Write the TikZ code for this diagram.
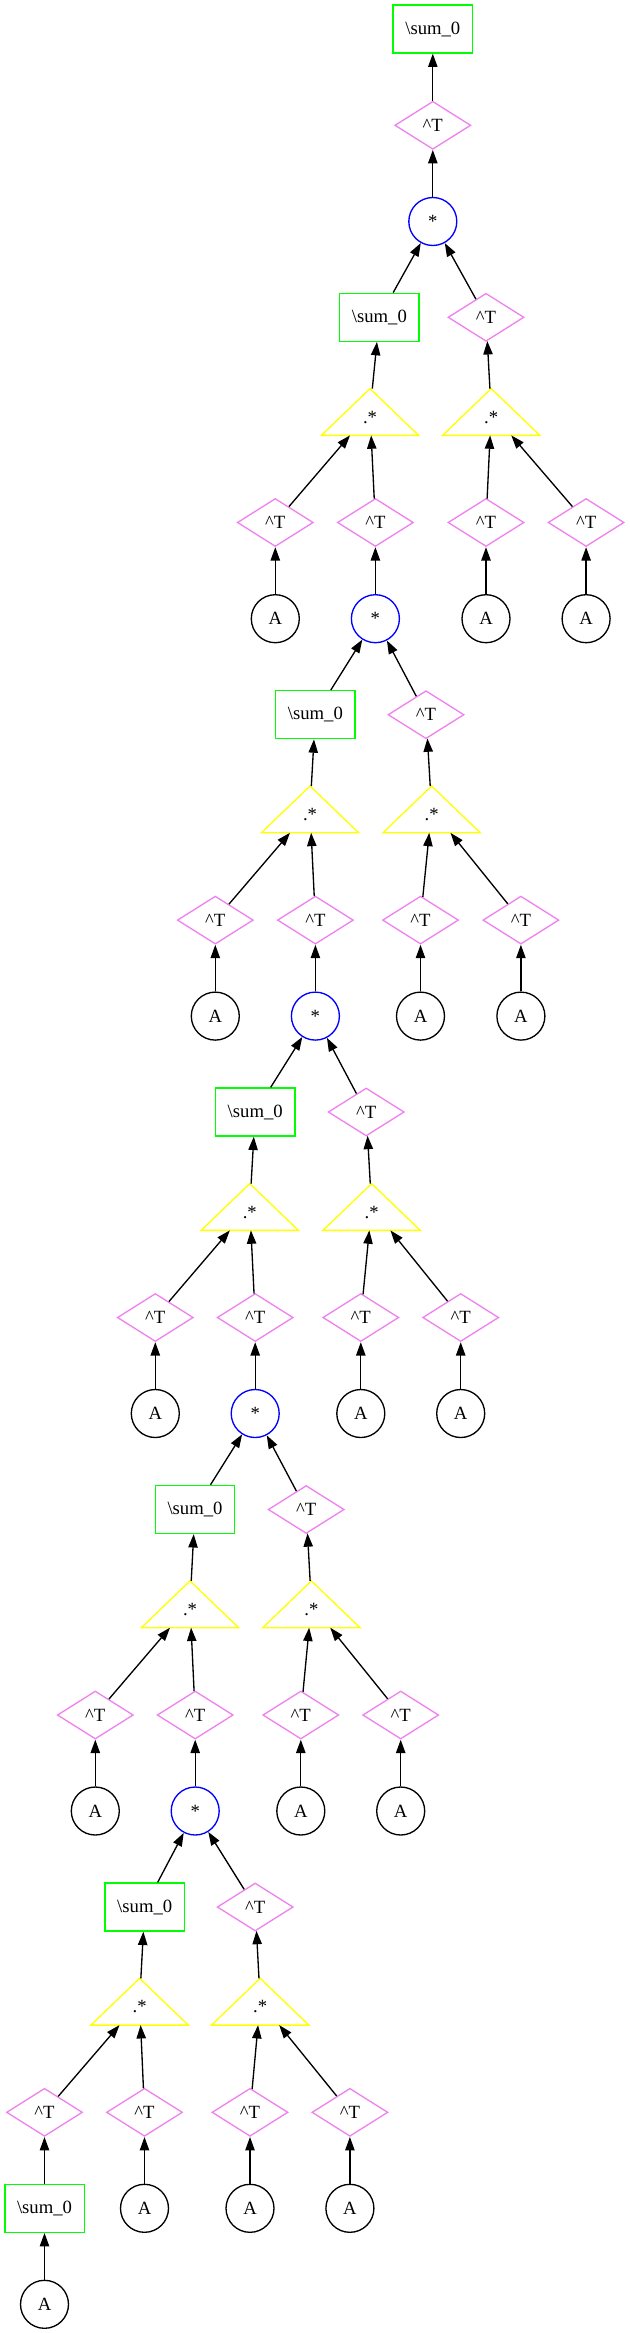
\documentclass[tikz,border=0pt]{standalone}
\usepackage{fontspec}
\setmainfont{Liberation Serif}
\usetikzlibrary{arrows.meta,shapes.geometric}
\definecolor{gvgreen}{HTML}{00FF00}
\definecolor{gvviolet}{HTML}{EE82EE}
\definecolor{gvblue}{HTML}{0000FF}
\definecolor{gvyellow}{HTML}{FFFF00}
\begin{document}
\begin{tikzpicture}[x=0.75pt,y=-0.75pt,
  every node/.style={font=\fontsize{14pt}{16pt}\selectfont, line width=1pt, inner sep=0pt},
  sumbox/.style={draw=gvgreen, rectangle, minimum width=59.5pt, minimum height=36pt},
  tdia/.style={draw=gvviolet, diamond, aspect=1.58, minimum width=57pt, minimum height=36pt},
  acirc/.style={draw=black, circle, minimum size=36pt},
  scirc/.style={draw=gvblue, circle, minimum size=36pt},
  tri/.style={rectangle, minimum width=72pt, minimum height=34.1pt, text height=16.9pt, text depth=0pt},
  triline/.style={draw=gvyellow, line width=1pt, line join=miter},
  arr/.style={-{Triangle[length=10pt,width=7pt]}, line width=1pt, black}]
\useasboundingbox (0,0) rectangle (629,2333);
% top
\node[sumbox] (r0) at (432.8,29) {\textbackslash sum\_0};
\node[tdia] (r1) at (432.8,125.3) {\textasciicircum T};
\node[scirc] (s1) at (432.8,221.5) {*};
% group 1
\node[sumbox] (b1) at (379.4,317.3) {\textbackslash sum\_0};
\node[tdia] (d1) at (486.0,317.3) {\textasciicircum T};
\node[tri] (tl1) at (370.0,412.0) {.*};
\node[tri] (tr1) at (491.2,412.0) {.*};
\node[tdia] (p1a) at (275.3,522.5) {\textasciicircum T};
\node[tdia] (p1b) at (375.4,522.5) {\textasciicircum T};
\node[tdia] (p1c) at (486.0,522.5) {\textasciicircum T};
\node[tdia] (p1d) at (586.1,522.5) {\textasciicircum T};
\node[acirc] (a1a) at (275.3,618.7) {A};
\node[scirc] (s2) at (375.4,618.7) {*};
\node[acirc] (a1c) at (486.0,618.7) {A};
\node[acirc] (a1d) at (586.1,618.7) {A};
% group 2
\node[sumbox] (b2) at (315.4,714.7) {\textbackslash sum\_0};
\node[tdia] (d2) at (426.0,714.7) {\textasciicircum T};
\node[tri] (tl2) at (310.0,809.4) {.*};
\node[tri] (tr2) at (431.6,809.4) {.*};
\node[tdia] (p2a) at (215.3,920.1) {\textasciicircum T};
\node[tdia] (p2b) at (315.4,920.1) {\textasciicircum T};
\node[tdia] (p2c) at (420.5,920.1) {\textasciicircum T};
\node[tdia] (p2d) at (520.9,920.1) {\textasciicircum T};
\node[acirc] (a2a) at (215.3,1016.1) {A};
\node[scirc] (s3) at (315.4,1016.1) {*};
\node[acirc] (a2c) at (420.5,1016.1) {A};
\node[acirc] (a2d) at (520.9,1016.1) {A};
% group 3
\node[sumbox] (b3) at (255.2,1112.0) {\textbackslash sum\_0};
\node[tdia] (d3) at (366.2,1112.0) {\textasciicircum T};
\node[tri] (tl3) at (249.8,1207.0) {.*};
\node[tri] (tr3) at (371.6,1207.0) {.*};
\node[tdia] (p3a) at (155.3,1317.5) {\textasciicircum T};
\node[tdia] (p3b) at (255.2,1317.5) {\textasciicircum T};
\node[tdia] (p3c) at (360.8,1317.5) {\textasciicircum T};
\node[tdia] (p3d) at (460.7,1317.5) {\textasciicircum T};
\node[acirc] (a3a) at (155.3,1413.5) {A};
\node[scirc] (s4) at (255.2,1413.5) {*};
\node[acirc] (a3c) at (360.8,1413.5) {A};
\node[acirc] (a3d) at (460.7,1413.5) {A};
% group 4
\node[sumbox] (b4) at (195.0,1509.5) {\textbackslash sum\_0};
\node[tdia] (d4) at (306.2,1509.5) {\textasciicircum T};
\node[tri] (tl4) at (190.0,1604.3) {.*};
\node[tri] (tr4) at (311.4,1604.3) {.*};
\node[tdia] (p4a) at (95.3,1715.0) {\textasciicircum T};
\node[tdia] (p4b) at (195.2,1715.0) {\textasciicircum T};
\node[tdia] (p4c) at (300.8,1715.0) {\textasciicircum T};
\node[tdia] (p4d) at (400.7,1715.0) {\textasciicircum T};
\node[acirc] (a4a) at (95.3,1811.0) {A};
\node[scirc] (s5) at (195.2,1811.0) {*};
\node[acirc] (a4c) at (300.8,1811.0) {A};
\node[acirc] (a4d) at (400.7,1811.0) {A};
% group 5
\node[sumbox] (b5) at (144.7,1907.0) {\textbackslash sum\_0};
\node[tdia] (d5) at (255.2,1907.0) {\textasciicircum T};
\node[tri] (tl5) at (139.6,2001.7) {.*};
\node[tri] (tr5) at (260.2,2001.7) {.*};
\node[tdia] (p5a) at (44.5,2112.3) {\textasciicircum T};
\node[tdia] (p5b) at (144.5,2112.3) {\textasciicircum T};
\node[tdia] (p5c) at (250.0,2112.3) {\textasciicircum T};
\node[tdia] (p5d) at (349.9,2112.3) {\textasciicircum T};
\node[sumbox] (b6) at (44.5,2208.3) {\textbackslash sum\_0};
\node[acirc] (a5b) at (144.5,2208.3) {A};
\node[acirc] (a5c) at (250.0,2208.3) {A};
\node[acirc] (a5d) at (349.9,2208.3) {A};
\node[acirc] (a6) at (44.5,2304.3) {A};
% triangle outlines
\foreach \t in {tl1,tr1,tl2,tr2,tl3,tr3,tl4,tr4,tl5,tr5}
  \draw[triline] (\t.south west) -- (\t.south east) -- (\t.north) -- cycle;
% edges
\draw[arr] (r1) -- (r0);
\draw[arr] (s1) -- (r1);
\foreach \k/\s in {1/s1,2/s2,3/s3,4/s4,5/s5} {
  \draw[arr] (b\k) -- (\s);
  \draw[arr] (d\k) -- (\s);
  \draw[arr] (tl\k) -- (b\k);
  \draw[arr] (tr\k) -- (d\k);
  \draw[arr] (p\k a) -- (tl\k);
  \draw[arr] (p\k b) -- (tl\k);
  \draw[arr] (p\k c) -- (tr\k);
  \draw[arr] (p\k d) -- (tr\k);
}
\draw[arr] (a1a) -- (p1a);
\draw[arr] (s2) -- (p1b);
\draw[arr] (a1c) -- (p1c);
\draw[arr] (a1d) -- (p1d);
\draw[arr] (a2a) -- (p2a);
\draw[arr] (s3) -- (p2b);
\draw[arr] (a2c) -- (p2c);
\draw[arr] (a2d) -- (p2d);
\draw[arr] (a3a) -- (p3a);
\draw[arr] (s4) -- (p3b);
\draw[arr] (a3c) -- (p3c);
\draw[arr] (a3d) -- (p3d);
\draw[arr] (a4a) -- (p4a);
\draw[arr] (s5) -- (p4b);
\draw[arr] (a4c) -- (p4c);
\draw[arr] (a4d) -- (p4d);
\draw[arr] (b6) -- (p5a);
\draw[arr] (a5b) -- (p5b);
\draw[arr] (a5c) -- (p5c);
\draw[arr] (a5d) -- (p5d);
\draw[arr] (a6) -- (b6);
\end{tikzpicture}
\end{document}
